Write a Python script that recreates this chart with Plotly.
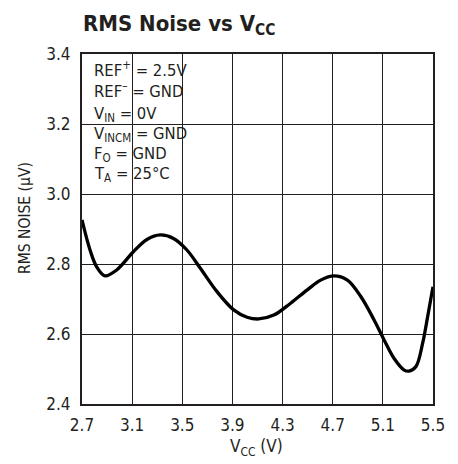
import plotly.graph_objects as go

vcc = [2.70, 2.764, 2.817, 2.884, 2.977, 3.11, 3.218, 3.324, 3.43, 3.537, 3.644, 3.777,
       3.91, 4.017, 4.11, 4.23, 4.364, 4.497, 4.604, 4.71, 4.817, 4.924, 5.03, 5.11,
       5.19, 5.27, 5.31, 5.364, 5.417, 5.457, 5.50]
noise = [2.926, 2.84, 2.792, 2.766, 2.783, 2.835, 2.870, 2.883, 2.873, 2.84, 2.788, 2.721,
         2.669, 2.648, 2.643, 2.654, 2.688, 2.726, 2.754, 2.766, 2.754, 2.707, 2.64, 2.583,
         2.53, 2.497, 2.494, 2.507, 2.573, 2.649, 2.735]
x_ticks = [2.7, 3.1, 3.5, 3.9, 4.3, 4.7, 5.1, 5.5]
y_ticks = [2.4, 2.6, 2.8, 3.0, 3.2, 3.4]
conditions = ["REF<sup>+</sup> = 2.5V", "REF<sup>–</sup> = GND", "V<sub>IN</sub> = 0V",
              "V<sub>INCM</sub> = GND", "F<sub>O</sub> = GND", "T<sub>A</sub> = 25°C"]

FONT = "DejaVu Sans Condensed, sans-serif"
INK = "#231f20"

# plot area in page pixels (the page body adds an 8px margin)
W, H = 450, 456
ML, MR, MT, MB = 74, 25, 46, 60
PW, PH = W - ML - MR, H - MT - MB

def px(xs):  # page x -> paper fraction
    return (xs - 8 - ML) / PW

def py(ys):  # page y -> paper fraction
    return 1 - (ys - 8 - MT) / PH

fig = go.Figure()
fig.add_trace(go.Scatter(x=vcc, y=noise, mode="lines",
                         line=dict(color="black", width=3.3, shape="spline", smoothing=1.0),
                         showlegend=False, hoverinfo="skip"))

fig.update_layout(
    width=W, height=H,
    margin=dict(l=ML, r=MR, t=MT, b=MB),
    paper_bgcolor="white", plot_bgcolor="white",
    font=dict(family=FONT, color=INK, size=17),
    title=dict(text="<b>RMS Noise vs V<sub>CC</sub></b>", x=75 / W, xanchor="left",
               y=1 - 15 / H, yanchor="middle", font=dict(size=22, family=FONT, color=INK)),
    xaxis=dict(range=[2.7, 5.5], tickvals=x_ticks, ticktext=[f"{v:.1f}" for v in x_ticks],
               showgrid=True, gridcolor=INK, gridwidth=1,
               showline=True, linecolor=INK, linewidth=2, mirror=True,
               ticks="", zeroline=False, ticklabelstandoff=5,
               tickfont=dict(size=17)),
    yaxis=dict(range=[2.4, 3.4], tickvals=y_ticks, ticktext=[f"{v:.1f}" for v in y_ticks],
               showgrid=True, gridcolor=INK, gridwidth=1,
               showline=True, linecolor=INK, linewidth=2, mirror=True,
               ticks="", zeroline=False, ticklabelstandoff=6,
               tickfont=dict(size=17)),
)

# white panel behind the condition text (hides gridlines)
fig.add_shape(type="rect", xref="paper", yref="paper", x0=0, x1=px(196), y0=py(191), y1=1,
              fillcolor="white", line=dict(width=0), layer="between")

line_centers = [71, 91, 112.5, 132.5, 152.5, 172.5]
offsets = [-1.5, -1.5, 2, 2, 2, 2]
for txt, yc, off in zip(conditions, line_centers, offsets):
    fig.add_annotation(xref="paper", yref="paper", x=px(92), y=py(yc + off),
                       xanchor="left", yanchor="middle", text=txt, showarrow=False,
                       align="left", font=dict(size=16.5, family=FONT, color=INK))

fig.add_annotation(xref="paper", yref="paper", x=px(25), y=py(218), textangle=-90,
                   xanchor="center", yanchor="middle", text="RMS NOISE (µV)",
                   showarrow=False, font=dict(size=15.5, family=FONT, color=INK))
fig.add_annotation(xref="paper", yref="paper", x=px(256), y=py(447.5),
                   xanchor="center", yanchor="middle", text="V<sub>CC</sub> (V)",
                   showarrow=False, font=dict(size=17, family=FONT, color=INK))

fig.write_html("out.html")
